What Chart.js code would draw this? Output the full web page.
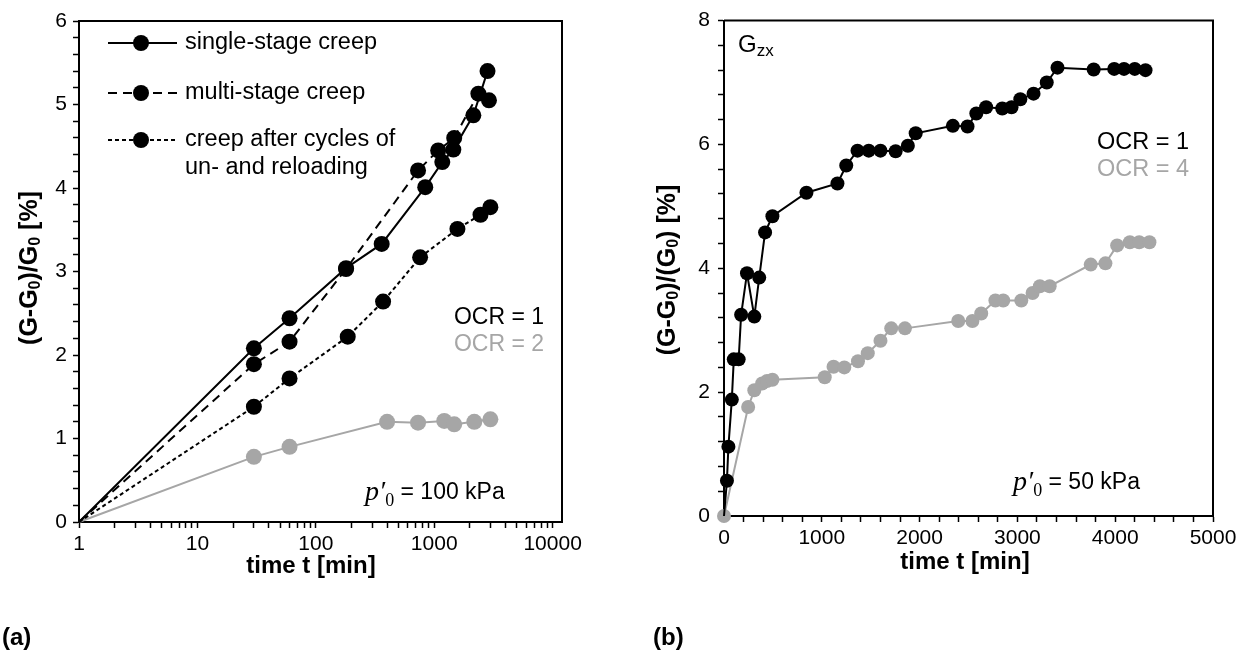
<!DOCTYPE html>
<html>
<head>
<meta charset="utf-8">
<script src="https://cdn.jsdelivr.net/npm/chart.js@4.4.1/dist/chart.umd.min.js"></script>
<style>
  html, body { margin: 0; padding: 0; background: #fff; }
  #wrap { position: relative; width: 1250px; height: 666px; }
  canvas { position: absolute; top: 0; }
  #chartA { left: 0; }
  #chartB { left: 625px; }
</style>
</head>
<body>
<div id="wrap">
  <canvas id="chartA" width="625" height="666"></canvas>
  <canvas id="chartB" width="625" height="666"></canvas>
</div>
<script>
// ---- (a) p'0 = 100 kPa, log time axis ----
const singleT = [1, 30, 60, 180, 360, 840, 1170, 1450, 2140, 2820];
const singleG = [0, 2.08, 2.44, 3.04, 3.33, 4.01, 4.31, 4.46, 4.87, 5.40];
const multiT = [1, 30, 60, 180, 730, 1080, 1475, 2360, 2900];
const multiG = [0, 1.89, 2.16, 3.03, 4.21, 4.45, 4.60, 5.13, 5.05];
const cycleT = [1, 30, 60, 186, 370, 760, 1570, 2460, 2980];
const cycleG = [0, 1.38, 1.72, 2.22, 2.64, 3.17, 3.51, 3.68, 3.77];
const ocr2T = [1, 30, 60, 400, 730, 1215, 1475, 2180, 2980];
const ocr2G = [0, 0.78, 0.90, 1.20, 1.19, 1.21, 1.17, 1.20, 1.23];
const logMajors = [1, 10, 100, 1000, 10000];

// ---- (b) p'0 = 50 kPa, G_zx, linear time axis ----
const ocr1T = [0, 30, 45, 80, 100, 150, 175, 235, 310, 360, 420, 495, 843, 1160, 1250, 1365, 1480, 1600,
  1755, 1880, 1960, 2340, 2490, 2580, 2680, 2845, 2940, 3030, 3165, 3300, 3410, 3780, 3990, 4090, 4200, 4310];
const ocr1G = [0, 0.57, 1.12, 1.88, 2.53, 2.53, 3.25, 3.92, 3.22, 3.85, 4.58, 4.84, 5.22, 5.37, 5.66, 5.90, 5.90, 5.90,
  5.89, 5.98, 6.18, 6.30, 6.29, 6.50, 6.60, 6.58, 6.60, 6.73, 6.82, 7.00, 7.24, 7.21, 7.22, 7.22, 7.22, 7.20];
const ocr4T = [0, 247, 310, 390, 440, 495, 1030, 1120, 1230, 1370, 1470, 1600, 1710, 1850, 2395, 2540, 2630,
  2775, 2855, 3040, 3155, 3230, 3330, 3750, 3900, 4020, 4150, 4245, 4350];
const ocr4G = [0, 1.76, 2.03, 2.14, 2.18, 2.20, 2.24, 2.41, 2.40, 2.50, 2.63, 2.83, 3.03, 3.03, 3.15, 3.15, 3.27,
  3.48, 3.48, 3.48, 3.60, 3.71, 3.71, 4.06, 4.08, 4.37, 4.42, 4.42, 4.42];

const SANS = '"Liberation Sans", Arial, "DejaVu Sans", sans-serif';
const SERIF = '"Liberation Serif", "DejaVu Serif", serif';
const BLACK = '#000000';
const GREY = '#a6a6a6';

function pts(xs, ys) {
  return xs.map((x, i) => ({ x: x, y: ys[i] }));
}

// draws a run of text pieces (for subscripts / mixed fonts)
function rich(ctx, x, y, parts, align) {
  ctx.textBaseline = 'middle';
  ctx.textAlign = 'left';
  let w = 0;
  parts.forEach(p => { ctx.font = p.f; p.w = ctx.measureText(p.t).width; w += p.w; });
  let cx = align === 'right' ? x - w : align === 'center' ? x - w / 2 : x;
  parts.forEach(p => {
    ctx.font = p.f;
    ctx.fillStyle = p.c || BLACK;
    ctx.fillText(p.t, cx, y + (p.dy || 0));
    cx += p.w;
  });
}

function richRot(ctx, x, y, parts) {
  ctx.save();
  ctx.translate(x, y);
  ctx.rotate(-Math.PI / 2);
  rich(ctx, 0, 0, parts, 'center');
  ctx.restore();
}

const framePlugin = {
  id: 'frame',
  afterDraw(chart) {
    const { ctx, chartArea: a } = chart;
    ctx.save();
    ctx.strokeStyle = BLACK;
    ctx.lineWidth = 2;
    ctx.beginPath();
    ctx.moveTo(a.left, a.top);
    ctx.lineTo(a.right, a.top);
    ctx.lineTo(a.right, a.bottom);
    ctx.stroke();
    ctx.restore();
  }
};

function axisStyle() {
  return {
    grid: { drawOnChartArea: false, drawTicks: true, tickLength: 6, tickColor: BLACK, tickWidth: 1.5 },
    border: { display: true, color: BLACK, width: 2 },
  };
}

function series(label, xs, ys, color, dash, r) {
  return {
    label: label,
    data: pts(xs, ys),
    showLine: true,
    borderColor: color,
    backgroundColor: color,
    borderWidth: 2,
    borderDash: dash,
    pointRadius: r,
    pointBorderWidth: 0,
    pointHoverRadius: r,
    clip: false,
  };
}

const noFirst = r => ctx => (ctx.dataIndex === 0 ? 0 : r);

const TITLE = 'bold 24px ' + SANS;
const YTITLE = 'bold 25px ' + SANS;
const YSUB = 'bold 16px ' + SANS;

// ---------- chart (a) ----------
const logTicks = [];
logMajors.forEach(d => { for (let k = 1; k <= 9; k++) if (d * k <= 10000) logTicks.push(d * k); });
const yTicksA = [];
for (let i = 0; i <= 30; i++) yTicksA.push(Math.round(i * 2) / 10);

const legendA = {
  id: 'legendA',
  afterDraw(chart) {
    const ctx = chart.ctx;
    const rows = [
      { y: 43, dash: [], text: ['single-stage creep'] },
      { y: 93, dash: [9, 6], text: ['multi-stage creep'] },
      { y: 140, dash: [4, 3], text: ['creep after cycles of', 'un- and reloading'] },
    ];
    ctx.save();
    rows.forEach(r => {
      ctx.strokeStyle = BLACK;
      ctx.lineWidth = 2;
      ctx.setLineDash(r.dash);
      ctx.beginPath();
      ctx.moveTo(108, r.y);
      ctx.lineTo(177, r.y);
      ctx.stroke();
      ctx.setLineDash([]);
      ctx.fillStyle = BLACK;
      ctx.beginPath();
      ctx.arc(141, r.y, 8, 0, Math.PI * 2);
      ctx.fill();
      r.text.forEach((t, i) => rich(ctx, 185, r.y + i * 28, [{ t: t, f: '23.5px ' + SANS }], 'left'));
    });
    // labels inside plot
    rich(ctx, 544, 318, [{ t: 'OCR = 1', f: '23px ' + SANS }], 'right');
    rich(ctx, 544, 345, [{ t: 'OCR = 2', f: '23px ' + SANS, c: GREY }], 'right');
    rich(ctx, 365, 493, [
      { t: 'p\u2032', f: 'italic 28px ' + SERIF },
      { t: '0', f: '18px ' + SERIF, dy: 8 },
      { t: ' = 100 kPa', f: '23px ' + SANS },
    ], 'left');
    // axis titles
    richRot(ctx, 30, 268, [
      { t: '(G-G', f: YTITLE }, { t: '0', f: YSUB, dy: 6 }, { t: ')/G', f: YTITLE }, { t: '0', f: YSUB, dy: 6 }, { t: ' [%]', f: YTITLE },
    ]);
    rich(ctx, 311, 566, [{ t: 'time t [min]', f: TITLE }], 'center');
    rich(ctx, 2, 638, [{ t: '(a)', f: TITLE }], 'left');
    ctx.restore();
  }
};

new Chart(document.getElementById('chartA'), {
  type: 'scatter',
  data: {
    datasets: [
      series('single-stage creep', singleT, singleG, BLACK, [], noFirst(8)),
      series('multi-stage creep', multiT, multiG, BLACK, [9, 6], noFirst(8)),
      series('creep after cycles of un- and reloading', cycleT, cycleG, BLACK, [4, 3], noFirst(8)),
      series('OCR = 2', ocr2T, ocr2G, GREY, [], noFirst(8)),
    ]
  },
  options: {
    responsive: false,
    animation: false,
    events: [],
    layout: { padding: { left: 0, top: 21, right: 63, bottom: 104 } },
    plugins: { legend: { display: false }, tooltip: { enabled: false } },
    scales: {
      x: Object.assign(axisStyle(), {
        type: 'logarithmic', min: 1, max: 12000,
        afterBuildTicks: s => { s.ticks = logTicks.map(v => ({ value: v })); },
        afterFit: s => { s.height = 40; },
        ticks: {
          autoSkip: false, maxRotation: 0, padding: 4, color: BLACK,
          font: { family: SANS, size: 21 },
          callback: v => (logMajors.includes(v) ? String(v) : ''),
        },
      }),
      y: Object.assign(axisStyle(), {
        min: 0, max: 6,
        afterBuildTicks: s => { s.ticks = yTicksA.map(v => ({ value: v })); },
        afterFit: s => { s.width = 79; },
        ticks: {
          autoSkip: false, padding: 6, color: BLACK,
          font: { family: SANS, size: 21 },
          callback: v => (Number.isInteger(v) ? String(v) : ''),
        },
      }),
    }
  },
  plugins: [framePlugin, legendA]
});

// ---------- chart (b) ----------
const xTicksB = [];
for (let v = 0; v <= 5000; v += 200) xTicksB.push(v);
const yTicksB = [];
for (let i = 0; i <= 20; i++) yTicksB.push(Math.round(i * 4) / 10);

const labelsB = {
  id: 'labelsB',
  afterDraw(chart) {
    const ctx = chart.ctx;
    ctx.save();
    rich(ctx, 113, 45, [
      { t: 'G', f: '24px ' + SANS }, { t: 'zx', f: '17px ' + SANS, dy: 6 },
    ], 'left');
    rich(ctx, 564, 143, [{ t: 'OCR = 1', f: '23.5px ' + SANS }], 'right');
    rich(ctx, 564, 170, [{ t: 'OCR = 4', f: '23.5px ' + SANS, c: GREY }], 'right');
    rich(ctx, 388, 483, [
      { t: 'p\u2032', f: 'italic 28px ' + SERIF },
      { t: '0', f: '18px ' + SERIF, dy: 8 },
      { t: ' = 50 kPa', f: '23px ' + SANS },
    ], 'left');
    richRot(ctx, 43, 270, [
      { t: '(G-G', f: YTITLE }, { t: '0', f: YSUB, dy: 6 }, { t: ')/(G', f: YTITLE }, { t: '0', f: YSUB, dy: 6 }, { t: ') [%]', f: YTITLE },
    ]);
    rich(ctx, 340, 562, [{ t: 'time t [min]', f: TITLE }], 'center');
    rich(ctx, 28, 638, [{ t: '(b)', f: TITLE }], 'left');
    ctx.restore();
  }
};

new Chart(document.getElementById('chartB'), {
  type: 'scatter',
  data: {
    datasets: [
      series('OCR = 1', ocr1T, ocr1G, BLACK, [], noFirst(7)),
      series('OCR = 4', ocr4T, ocr4G, GREY, [], 7),
    ]
  },
  options: {
    responsive: false,
    animation: false,
    events: [],
    layout: { padding: { left: 0, top: 20, right: 37, bottom: 110 } },
    plugins: { legend: { display: false }, tooltip: { enabled: false } },
    scales: {
      x: Object.assign(axisStyle(), {
        type: 'linear', min: 0, max: 5000,
        afterBuildTicks: s => { s.ticks = xTicksB.map(v => ({ value: v })); },
        afterFit: s => { s.height = 40; },
        ticks: {
          autoSkip: false, maxRotation: 0, padding: 4, color: BLACK,
          font: { family: SANS, size: 21 },
          callback: v => (v % 1000 === 0 ? String(v) : ''),
        },
      }),
      y: Object.assign(axisStyle(), {
        min: 0, max: 8,
        afterBuildTicks: s => { s.ticks = yTicksB.map(v => ({ value: v })); },
        afterFit: s => { s.width = 99; },
        ticks: {
          autoSkip: false, padding: 8, color: BLACK,
          font: { family: SANS, size: 21 },
          callback: v => (Number.isInteger(v) && v % 2 === 0 ? String(v) : ''),
        },
      }),
    }
  },
  plugins: [framePlugin, labelsB]
});
</script>
</body>
</html>
